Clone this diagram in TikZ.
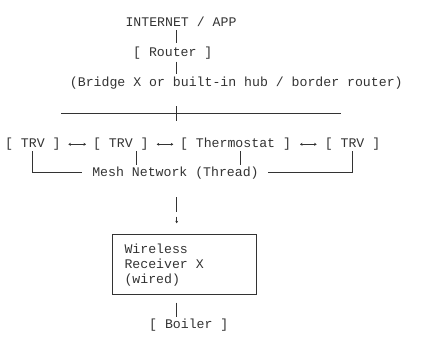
\documentclass[tikz,border=0pt]{standalone}
\usepackage{fontspec}
\setmainfont{Liberation Mono}
\usetikzlibrary{arrows.meta}
\begin{document}
\begin{tikzpicture}[x=1pt,y=-1pt,
  every node/.style={inner sep=0pt,outer sep=0pt,font=\fontsize{13.2}{15}\selectfont,text=black!80},
  lbl/.style={anchor=base},
  ln/.style={line width=0.9pt,draw=black!80},
  dbl/.style={line width=0.8pt,draw=black!80,{Stealth[length=2.5pt,width=3pt]}-{Stealth[length=2.5pt,width=3pt]}},
  boxst/.style={draw=black!80,line width=0.9pt}]
\useasboundingbox (0,0) rectangle (434,340);
% top chain
\node[lbl] (inet) at (181,26) {INTERNET / APP};
\node[lbl] (router) at (172.8,56) {[ Router ]};
\node[lbl] (bridge) at (236.3,86) {(Bridge X or built-in hub / border router)};
\coordinate (a1) at (176.7,30);
\coordinate (a2) at (176.7,43.3);
\coordinate (b1) at (176.7,61.7);
\coordinate (b2) at (176.7,74);
\draw[ln] (a1) -- (a2);
\draw[ln] (b1) -- (b2);
% bus line
\coordinate (busL) at (61,113.5);
\coordinate (busR) at (340.7,113.5);
\coordinate (tickT) at (176.7,106);
\coordinate (tickB) at (176.7,121);
\draw[ln] (busL) -- (busR);
\draw[ln] (tickT) -- (tickB);
% devices row
\node[lbl] (trv1) at (32.8,147.3) {[ TRV ]};
\node[lbl] (trv2) at (120.8,147.3) {[ TRV ]};
\node[lbl] (thermo) at (235.5,147.3) {[ Thermostat ]};
\node[lbl] (trv4) at (352.5,147.3) {[ TRV ]};
\coordinate (d1a) at (68.3,144.3); \coordinate (d1b) at (86,144.3);
\coordinate (d2a) at (156.7,144.3); \coordinate (d2b) at (173.3,144.3);
\coordinate (d3a) at (300,144.3); \coordinate (d3b) at (316.7,144.3);
\draw[dbl] (d1a) -- (d1b);
\draw[dbl] (d2a) -- (d2b);
\draw[dbl] (d3a) -- (d3b);
% mesh
\node[lbl] (mesh) at (175.5,176.5) {Mesh Network (Thread)};
\coordinate (v1t) at (32.7,151); \coordinate (v1b) at (32.7,172.7); \coordinate (h1e) at (81.7,172.7);
\coordinate (v2t) at (136.7,151); \coordinate (v2b) at (136.7,165);
\coordinate (v3t) at (240.7,151); \coordinate (v3b) at (240.7,165);
\coordinate (v4t) at (352.7,151); \coordinate (v4b) at (352.7,172.7); \coordinate (h4s) at (268.3,172.7);
\draw[ln] (v1t) -- (v1b) -- (h1e);
\draw[ln] (v2t) -- (v2b);
\draw[ln] (v3t) -- (v3b);
\draw[ln] (v4t) -- (v4b) -- (h4s);
% down arrow
\coordinate (m1) at (176.7,197); \coordinate (m2) at (176.7,211.7);
\coordinate (m3) at (176.7,216.5); \coordinate (m4) at (176.7,223.3);
\draw[ln] (m1) -- (m2);
\draw[line width=0.7pt,draw=black!80,-{Stealth[length=2.5pt,width=3pt]}] (m3) -- (m4);
% receiver box
\node[boxst,minimum width=144.4pt,minimum height=60.3pt] (recv) at (184.5,264.2) {};
\node[anchor=base west] (r1) at (124.5,253.3) {Wireless};
\node[anchor=base west] (r2) at (124.5,268.3) {Receiver X};
\node[anchor=base west] (r3) at (124.5,283.3) {(wired)};
\coordinate (n1) at (176.7,302.7); \coordinate (n2) at (176.7,316.7);
\draw[ln] (n1) -- (n2);
\node[lbl] (boiler) at (188.8,328.3) {[ Boiler ]};
\end{tikzpicture}
\end{document}
